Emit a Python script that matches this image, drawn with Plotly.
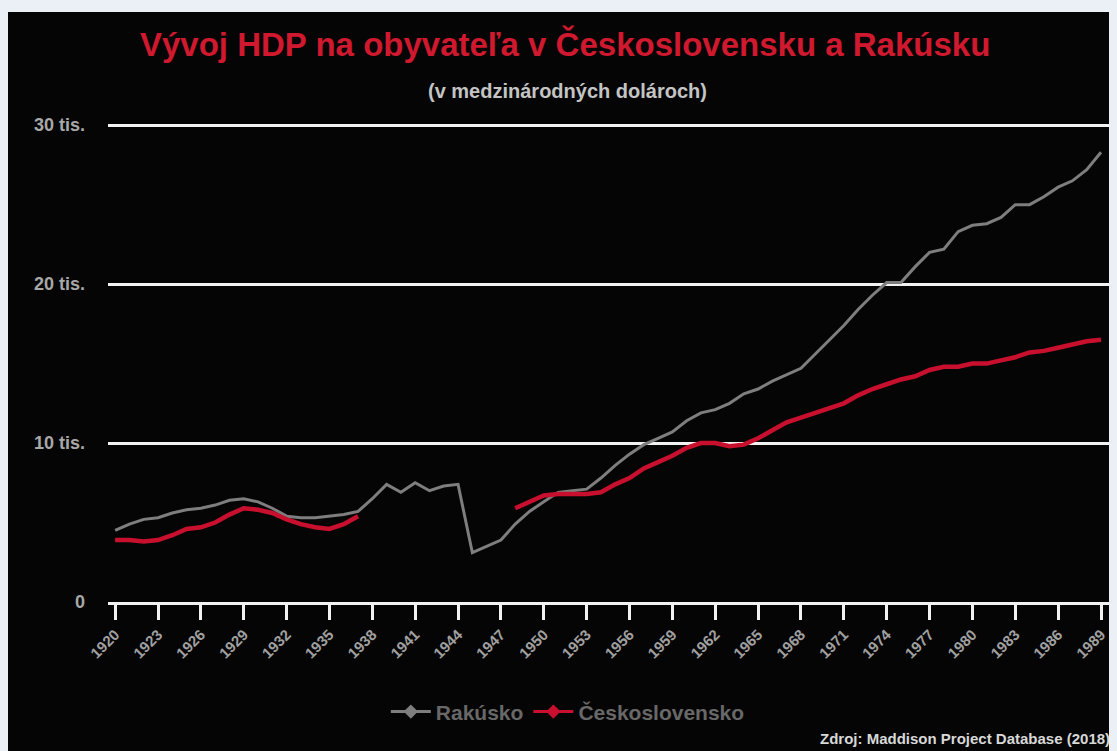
import plotly.graph_objects as go

years = list(range(1920, 1990))

rakusko = [4.5, 4.9, 5.2, 5.3, 5.6, 5.8, 5.9, 6.1, 6.4, 6.5,
           6.3, 5.9, 5.4, 5.3, 5.3, 5.4, 5.5, 5.7, 6.5, 7.4,
           6.9, 7.5, 7.0, 7.3, 7.4, 3.1, 3.5, 3.9, 4.9, 5.7,
           6.3, 6.9, 7.0, 7.1, 7.8, 8.6, 9.3, 9.9, 10.3, 10.7,
           11.4, 11.9, 12.1, 12.5, 13.1, 13.4, 13.9, 14.3, 14.7, 15.6,
           16.5, 17.4, 18.4, 19.3, 20.1, 20.1, 21.1, 22.0, 22.2, 23.3,
           23.7, 23.8, 24.2, 25.0, 25.0, 25.5, 26.1, 26.5, 27.2, 28.3]

ceskoslovensko = [3.9, 3.9, 3.8, 3.9, 4.2, 4.6, 4.7, 5.0, 5.5, 5.9,
                  5.8, 5.6, 5.2, 4.9, 4.7, 4.6, 4.9, 5.4, None, None,
                  None, None, None, None, None, None, None, None, 5.9, 6.3,
                  6.7, 6.8, 6.8, 6.8, 6.9, 7.4, 7.8, 8.4, 8.8, 9.2,
                  9.7, 10.0, 10.0, 9.8, 9.9, 10.3, 10.8, 11.3, 11.6, 11.9,
                  12.2, 12.5, 13.0, 13.4, 13.7, 14.0, 14.2, 14.6, 14.8, 14.8,
                  15.0, 15.0, 15.2, 15.4, 15.7, 15.8, 16.0, 16.2, 16.4, 16.5]

y_tickvals = [0, 10000, 20000, 30000]
y_ticktext = ["0", "10 tis.", "20 tis.", "30 tis."]

series_names = ["Rakúsko", "Československo"]
GRAY = "#7e7e7e"
RED = "#c8102e"
FONT = "Liberation Sans"
BG = "#eaf0f5"

fig = go.Figure()
fig.add_trace(go.Scatter(x=years, y=[v * 1000 for v in rakusko], mode="lines",
                         line=dict(color=GRAY, width=3), showlegend=False,
                         connectgaps=False, hoverinfo="skip"))
fig.add_trace(go.Scatter(x=years, y=[None if v is None else v * 1000 for v in ceskoslovensko],
                         mode="lines", line=dict(color=RED, width=4.5), showlegend=False,
                         connectgaps=False, hoverinfo="skip"))
# legend entries
fig.add_trace(go.Scatter(x=[None], y=[None], mode="lines+markers", name=series_names[0],
                         line=dict(color=GRAY, width=3),
                         marker=dict(symbol="diamond", size=11, color=GRAY)))
fig.add_trace(go.Scatter(x=[None], y=[None], mode="lines+markers", name=series_names[1],
                         line=dict(color=RED, width=3),
                         marker=dict(symbol="diamond", size=11, color=RED)))

fig.update_layout(
    width=1109, height=743,
    margin=dict(l=100, r=5, t=114, b=149),
    paper_bgcolor=BG,
    plot_bgcolor="#050505",
    font=dict(family=FONT, color="#a8a8a8"),
    shapes=[dict(type="rect", xref="paper", yref="paper",
                 x0=-0.0996, x1=2, y0=-1, y1=1.229,
                 fillcolor="#050505", line=dict(width=0), layer="below")],
    showlegend=True,
    legend=dict(orientation="h", x=0.458, xanchor="center", y=-0.229, yanchor="middle",
                font=dict(family=FONT, size=21, color="#686868", weight="bold"),
                bgcolor="rgba(0,0,0,0)", itemwidth=40, tracegroupgap=0),
    annotations=[
        dict(text="Vývoj HDP na obyvateľa v Československu a Rakúsku",
             xref="paper", yref="paper", x=0.455, xanchor="center",
             y=(602 - 44) / 480, yanchor="middle", showarrow=False,
             font=dict(family=FONT, size=33, color="#d0182e", weight="bold")),
        dict(text="(v medzinárodných dolároch)",
             xref="paper", yref="paper", x=0.458, xanchor="center",
             y=(602 - 91) / 480, yanchor="middle", showarrow=False,
             font=dict(family=FONT, size=20, color="#c4c4c4", weight="bold")),
        dict(text="Zdroj: Maddison Project Database (2018)",
             xref="paper", yref="paper", x=1.0, xanchor="right",
             y=(602 - 738) / 480, yanchor="middle", showarrow=False,
             font=dict(family=FONT, size=15, color="#d8d8d8", weight="bold")),
    ],
)

fig.update_xaxes(
    range=[1919.5, 1989.77],
    tickmode="linear", tick0=1920, dtick=3,
    tickangle=-45,
    ticks="outside", ticklen=15, tickwidth=3, tickcolor="#f2f2f2",
    showline=True, linecolor="#f2f2f2", linewidth=3,
    showgrid=False, zeroline=False,
    tickfont=dict(family=FONT, size=15, color="#a0a0a0", weight="bold"),
)
fig.update_yaxes(
    range=[0, 30200],
    tickmode="array", tickvals=y_tickvals, ticktext=y_ticktext,
    showgrid=True, gridcolor="#f2f2f2", gridwidth=3,
    zeroline=False, showline=False, ticks="",
    ticklabelstandoff=22,
    tickfont=dict(family=FONT, size=18, color="#a8a8a8", weight="bold"),
)

fig.write_html("out.html",
               post_script="document.body.style.background='" + BG + "';")
